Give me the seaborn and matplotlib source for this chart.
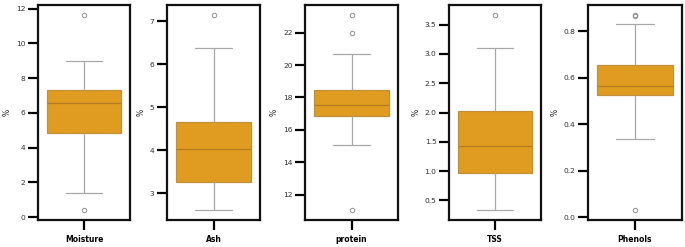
import pandas as pd
import seaborn as sns
import matplotlib.pyplot as plt

# values per variable
moisture = [0.4, 1.4, 4.85, 5.6, 6.55, 7.0, 7.3, 9.0, 11.65]
ash = [2.6, 3.0, 3.25, 3.7, 4.02, 4.4, 4.65, 6.38, 7.15]
protein = [11.05, 15.1, 16.2, 16.85, 17.1, 17.3, 17.55, 17.9, 18.2, 18.45, 20.65, 22.0, 23.1]
tss = [0.33, 0.7, 0.97, 1.2, 1.43, 1.7, 2.03, 3.1, 3.67]
phenols = [0.03, 0.335, 0.45, 0.525, 0.54, 0.55, 0.565, 0.6, 0.63, 0.655, 0.83, 0.865, 0.87]

names = ['Moisture', 'Ash', 'protein', 'TSS', 'Phenols']
series = [moisture, ash, protein, tss, phenols]

sns.set_style('ticks')
plt.rcParams['font.family'] = ['DejaVu Sans']

fig = plt.figure(figsize=(6.85, 2.47), dpi=100)

# axes left/right edges in pixels
lefts = [38, 167, 305, 449, 588]
widths = [92, 93, 93, 92, 94]

for i in range(5):
    ax = fig.add_axes([lefts[i] / 685, 0.109, widths[i] / 685, 0.871])
    df = pd.DataFrame({names[i]: series[i]})
    sns.boxplot(data=df, color='orange', ax=ax, linewidth=0.9, linecolor='#a8a8a8',
                boxprops=dict(edgecolor='#c0903a'),
                medianprops=dict(color='#b57c22'),
                flierprops=dict(marker='o', markersize=3.2, markeredgewidth=0.7,
                                markeredgecolor='#909090', markerfacecolor='none'))
    ax.set_ylabel('%', fontsize=5.5, labelpad=3)
    ax.tick_params(axis='both', length=7, width=1.6, labelsize=5.4, colors='black',
                   labelcolor='#333333', pad=2)
    ax.tick_params(axis='x', length=7.5, pad=3)
    for lab in ax.get_xticklabels():
        lab.set_fontweight('bold')
        lab.set_fontsize(5.5)
        lab.set_color('black')
    for sp in ax.spines.values():
        sp.set_linewidth(1.6)
        sp.set_color('#111111')

plt.savefig('out.png', dpi=100)
